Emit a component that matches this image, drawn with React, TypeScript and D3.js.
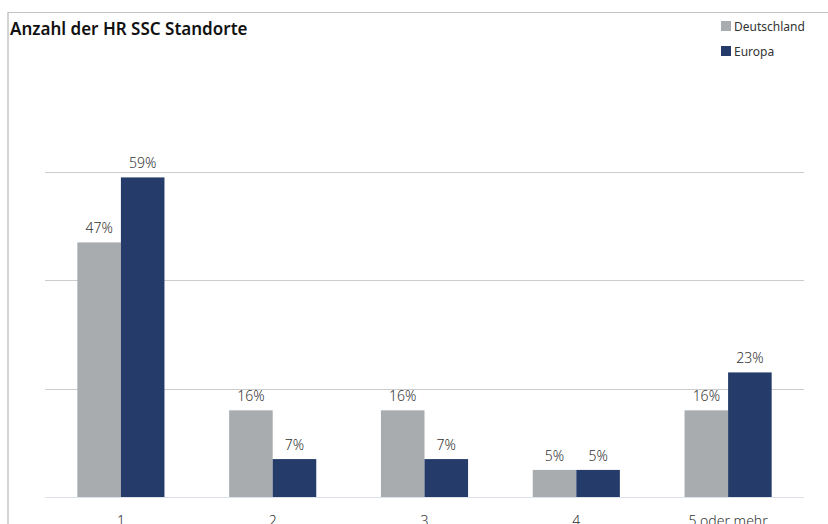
import React from "react";
import * as d3 from "d3";

const categories = ["1", "2", "3", "4", "5 oder mehr"];
const seriesNames = ["Deutschland", "Europa"];
const deutschland = [47, 16, 16, 5, 16];
const europa = [59, 7, 7, 5, 23];
const gridTicks = [20, 40, 60];

const W = 828;
const H = 524;
const colors = ["#a9acaf", "#253b69"];
const font = "'Noto Sans', 'DejaVu Sans', sans-serif";

export default function App() {
  const x = d3.scaleBand<string>().domain(categories).range([45, 804]).paddingInner(0.426).paddingOuter(0.213);
  const sub = d3.scaleBand<string>().domain(seriesNames).range([0, x.bandwidth()]);
  const y = d3.scaleLinear().domain([0, 60]).range([497, 172]);
  const values = [deutschland, europa];

  return (
    <svg width={W} height={H} style={{ position: "absolute", left: 0, top: 0, background: "#fff" }} fontFamily={font}>
      {/* frame */}
      <line x1={8} x2={W} y1={12.5} y2={12.5} stroke="#c4c4c4" strokeWidth={1} />
      <line x1={8} x2={8} y1={12} y2={H} stroke="#c4c4c4" strokeWidth={1.5} />

      <text x={10} y={35} fontSize={17} fontWeight={600} fill="#111">Anzahl der HR SSC Standorte</text>

      {/* legend */}
      {seriesNames.map((s, i) => (
        <g key={s} transform={`translate(721, ${21 + i * 25})`}>
          <rect width={10} height={10} fill={colors[i]} />
          <text x={13} y={9.5} fontSize={12} fill="#333">{s}</text>
        </g>
      ))}

      {/* gridlines */}
      {gridTicks.map((t) => (
        <line key={t} x1={45} x2={804} y1={Math.round(y(t)) + 0.5} y2={Math.round(y(t)) + 0.5} stroke="#cccccc" strokeWidth={1} />
      ))}
      <line x1={45} x2={804} y1={497.5} y2={497.5} stroke="#dde2ea" strokeWidth={1} />

      {/* bars */}
      {categories.map((c, ci) => (
        <g key={c} transform={`translate(${x(c)}, 0)`}>
          {seriesNames.map((s, si) => {
            const v = values[si][ci];
            const bx = sub(s)!;
            return (
              <g key={s}>
                <rect x={bx} y={y(v)} width={sub.bandwidth()} height={y(0) - y(v)} fill={colors[si]} />
                <text x={bx + sub.bandwidth() / 2} y={y(v) - 9} fontSize={14} fontWeight={300} textAnchor="middle" fill="#333">{v}%</text>
              </g>
            );
          })}
          <text x={x.bandwidth() / 2} y={526} fontSize={14} fontWeight={300} textAnchor="middle" fill="#333">{c}</text>
        </g>
      ))}
    </svg>
  );
}
